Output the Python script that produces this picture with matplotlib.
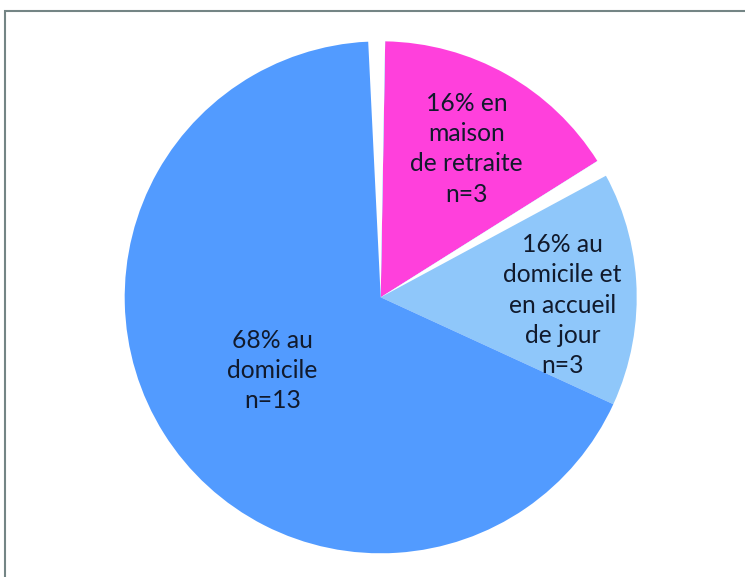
import matplotlib.pyplot as plt
from matplotlib.patches import Wedge, Rectangle
import numpy as np

# data
labels = ["16% en\nmaison\nde retraite\nn=3",
          "16% au\ndomicile et\nen accueil\nde jour\nn=3",
          "68% au\ndomicile\nn=13"]
counts = [3, 3, 13]
colors = ["#FF40DC", "#8FC7FA", "#529BFF"]

# label placement along each wedge (fraction of radius, angle tweak in deg)
label_r = [0.67, 0.71, 0.51]
label_tweak = [-0.6, -6.2, 1.9]

fig = plt.figure(figsize=(7.45, 5.77), dpi=100)
ax = fig.add_axes([0, 0, 1, 1])

# pixel -> data mapping: pie centre at (380.7, 297.3) px, radius 256 px
R_PX = 256.0
CX, CY = 380.7, 297.3

wedges, _ = ax.pie(counts, colors=colors, startangle=89, counterclock=False,
                   wedgeprops=dict(linewidth=0, edgecolor="none"),
                   radius=1.0, center=(0, 0), frame=True)
ax.set_xlim(-CX / R_PX, (745 - CX) / R_PX)
ax.set_ylim((CY - 577) / R_PX, CY / R_PX)
ax.set_aspect("equal")
ax.axis("off")

# white angular gaps either side of the first slice (cut from the neighbours)
gap = 3.8
w0 = wedges[0]
for a1, a2 in ((w0.theta2, w0.theta2 + gap), (w0.theta1 - gap, w0.theta1)):
    ax.add_patch(Wedge((0, 0), 1.03, a1, a2,
                       facecolor="white", edgecolor="none", zorder=3))

for w, lab, r, tw in zip(wedges, labels, label_r, label_tweak):
    mid = np.deg2rad((w.theta1 + w.theta2) / 2 + tw)
    ax.text(r * np.cos(mid), r * np.sin(mid), lab, ha="center", va="center",
            fontsize=17.7, family="Lato", color="#111a2c", linespacing=1.38,
            zorder=4)

# grey frame (only left and top edges show)
fig.patches.append(Rectangle((4.5 / 745, -0.1), 1.2, (577 - 11) / 577 + 0.1,
                             transform=fig.transFigure, fill=False,
                             edgecolor="#748585", linewidth=1.5))

fig.savefig("out.png", dpi=100)
